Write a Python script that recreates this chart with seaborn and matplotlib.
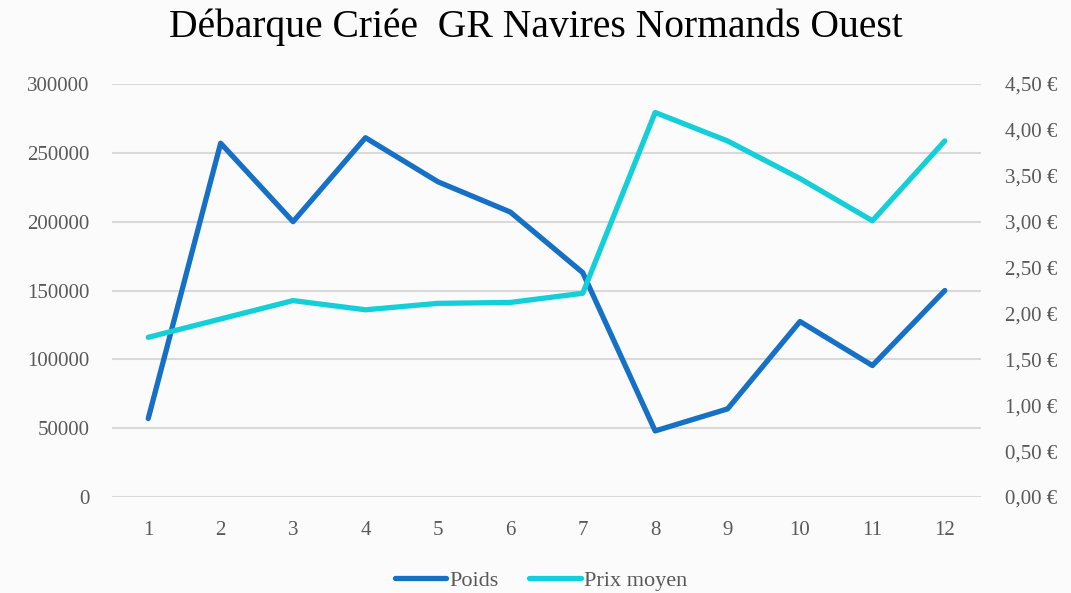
import seaborn as sns
import matplotlib.pyplot as plt
import matplotlib.ticker as mticker
import pandas as pd

# Monthly data
mois = [1, 2, 3, 4, 5, 6, 7, 8, 9, 10, 11, 12]
poids = [57000, 257000, 200000, 261000, 229000, 207000,
         163000, 48000, 64000, 127500, 95500, 150000]
prix_moyen = [1.74, 1.94, 2.14, 2.04, 2.11, 2.12,
              2.22, 4.19, 3.88, 3.47, 3.01, 3.88]

df = pd.DataFrame({'Mois': mois, 'Poids': poids, 'Prix moyen': prix_moyen})

sns.set_style("white")
plt.rcParams['font.family'] = ['Liberation Serif', 'DejaVu Serif']

bg = '#FBFBFB'
grey = '#595959'
c_poids = '#1570C6'
c_prix = '#14CFD8'

fig = plt.figure(figsize=(10.71, 5.93), dpi=100, facecolor=bg)
ax = fig.add_axes([0.1046, 0.1619, 0.8114, 0.6964])
ax.set_facecolor(bg)
ax2 = ax.twinx()

sns.lineplot(data=df, x='Mois', y='Poids', ax=ax, color=c_poids,
             linewidth=3.8, label='Poids', legend=False)
sns.lineplot(data=df, x='Mois', y='Prix moyen', ax=ax2, color=c_prix,
             linewidth=3.8, label='Prix moyen', legend=False)

# Left axis
ax.set_ylim(0, 300000)
ax.set_yticks(range(0, 300001, 50000))
ax.yaxis.set_major_formatter(mticker.FuncFormatter(lambda v, p: f"{int(v)}"))
ax.grid(axis='y', color='#D9D9D9', linewidth=1.5)
ax.grid(axis='x', visible=False)
ax.set_axisbelow(True)

# Right axis
ax2.set_ylim(0, 4.5)
ax2.set_yticks([i * 0.5 for i in range(10)])
ax2.yaxis.set_major_formatter(
    mticker.FuncFormatter(lambda v, p: f"{v:.2f}".replace('.', ',') + " €"))

ax.set_xlim(0.5, 12.5)
ax.set_xticks(mois)

for a in (ax, ax2):
    for s in a.spines.values():
        s.set_visible(False)
    a.tick_params(length=0, labelsize=15, labelcolor=grey)
    a.set_xlabel('')
    a.set_ylabel('')
ax.tick_params(axis='y', pad=16)
ax.tick_params(axis='x', pad=17)
ax2.tick_params(axis='y', pad=17)

fig.suptitle("Débarque Criée  GR Navires Normands Ouest", fontsize=28.5,
             color='black', y=0.985)

h1, l1 = ax.get_legend_handles_labels()
h2, l2 = ax2.get_legend_handles_labels()
fig.legend(h1 + h2, l1 + l2, loc='lower center', bbox_to_anchor=(0.505, -0.03),
           ncol=2, frameon=False, fontsize=16, labelcolor=grey,
           handlelength=2.3, handletextpad=0.15, columnspacing=1.4)

fig.savefig('out.png', dpi=100, facecolor=bg)
